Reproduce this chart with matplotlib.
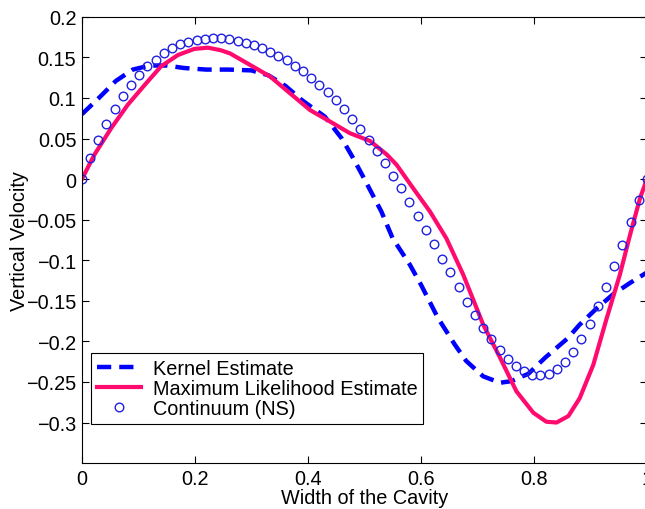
import numpy as np
import matplotlib
matplotlib.use("Agg")
import matplotlib.pyplot as plt

# --------------------------------------------
# Data
# --------------------------------------------

# Continuum (NS) samples, 70 equally spaced points on [0, 1]
ns_x = np.linspace(0, 1, 70)
ns_y = [0.0, 0.0259, 0.0484, 0.068, 0.0866, 0.102, 0.116, 0.128, 0.139, 0.147,
        0.155, 0.161, 0.166, 0.1696, 0.1716, 0.173, 0.1736, 0.1736, 0.1724, 0.170,
        0.168, 0.165, 0.162, 0.157, 0.152, 0.1466, 0.140, 0.133, 0.125, 0.116,
        0.107, 0.097, 0.086, 0.0739, 0.0612, 0.048, 0.035, 0.0197, 0.004, -0.011,
        -0.028, -0.045, -0.063, -0.080, -0.098, -0.115, -0.133, -0.151, -0.167, -0.183,
        -0.197, -0.211, -0.222, -0.230, -0.237, -0.241, -0.242, -0.240, -0.234, -0.225,
        -0.213, -0.197, -0.178, -0.156, -0.133, -0.1076, -0.0817, -0.053, -0.026, 0.0]

kernel_x = [0, 0.03, 0.06, 0.09, 0.12, 0.15, 0.18, 0.22, 0.26, 0.30, 0.33, 0.36,
            0.39, 0.43, 0.46, 0.48, 0.50, 0.53, 0.55, 0.58, 0.60, 0.63, 0.66, 0.68,
            0.71, 0.74, 0.76, 0.79, 0.82, 0.86, 0.88, 0.91, 0.94, 0.97, 1.0]
kernel_y = [0.080, 0.100, 0.121, 0.135, 0.140, 0.140, 0.137, 0.135, 0.135, 0.134,
            0.128, 0.115, 0.097, 0.077, 0.050, 0.026, 0.000, -0.040, -0.073, -0.105,
            -0.130, -0.171, -0.204, -0.224, -0.243, -0.251, -0.249, -0.240, -0.220,
            -0.196, -0.180, -0.160, -0.142, -0.128, -0.115]

ml_x = [0, 0.022, 0.052, 0.081, 0.111, 0.140, 0.170, 0.199, 0.223, 0.245, 0.262,
        0.297, 0.333, 0.368, 0.404, 0.439, 0.474, 0.510, 0.540, 0.557, 0.586, 0.616,
        0.645, 0.675, 0.710, 0.740, 0.769, 0.799, 0.822, 0.840, 0.861, 0.881, 0.905,
        0.929, 0.952, 0.970, 0.988, 1.0]
ml_y = [0, 0.030, 0.063, 0.0915, 0.116, 0.139, 0.153, 0.1605, 0.162, 0.159, 0.155,
        0.141, 0.1265, 0.106, 0.085, 0.071, 0.0567, 0.047, 0.030, 0.0176, -0.011,
        -0.040, -0.073, -0.118, -0.179, -0.220, -0.2615, -0.288, -0.299, -0.300,
        -0.292, -0.27, -0.229, -0.171, -0.118, -0.069, -0.023, 0.0]

x_ticks = [0, 0.2, 0.4, 0.6, 0.8, 1]
y_ticks = [-0.3, -0.25, -0.2, -0.15, -0.1, -0.05, 0, 0.05, 0.1, 0.15, 0.2]

# --------------------------------------------
# Plot
# --------------------------------------------

plt.rcParams["font.family"] = ["Liberation Sans", "DejaVu Sans"]
fs = 14.3

fig = plt.figure(figsize=(6.45, 5.1), dpi=100)
ax = fig.add_axes([0.127, 0.090, 0.876, 0.875])

ax.plot(kernel_x, kernel_y, color="#0000ff", lw=3.2, ls=(0, (3.2, 1.8)),
        label="Kernel Estimate")
ax.plot(ml_x, ml_y, color="#ff0a6e", lw=3.0, label="Maximum Likelihood Estimate")
ax.plot(ns_x, ns_y, ls="none", marker="o", ms=6.2, mfc="none", mec="#2020e0",
        mew=1.0, label="Continuum (NS)")

ax.set_xlim(0, 1)
ax.set_ylim(-0.35, 0.2)
ax.set_xticks(x_ticks)
ax.set_xticklabels(["0", "0.2", "0.4", "0.6", "0.8", "1"])
ax.set_yticks(y_ticks)
ax.set_yticklabels([("%g" % v).replace("-", "\u2212") for v in y_ticks])
ax.tick_params(direction="in", top=True, right=True, length=5, width=0.8,
               labelsize=fs, pad=4)
for s in ax.spines.values():
    s.set_linewidth(0.8)

ax.set_xlabel("Width of the Cavity", fontsize=fs, labelpad=0)
ax.set_ylabel("Vertical Velocity", fontsize=fs, labelpad=-2)

leg = ax.legend(loc="lower left", bbox_to_anchor=(0.016, 0.087),
                borderaxespad=0, fancybox=False, framealpha=1,
                edgecolor="black", fontsize=fs, handlelength=2.2,
                labelspacing=0.05, borderpad=0.3, handletextpad=0.6)
leg.get_frame().set_linewidth(0.8)

fig.savefig("out.png", dpi=100)
